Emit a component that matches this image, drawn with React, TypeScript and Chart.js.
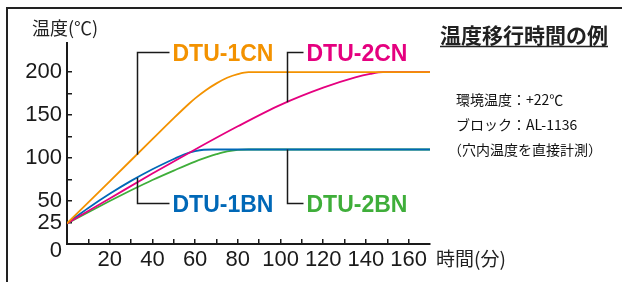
import React, { useEffect, useRef } from 'react';
import { Chart, registerables } from 'chart.js';

Chart.register(...registerables);

// ---- data (minutes, °C) ----
const dtu1cnTime = [0, 10, 20, 30, 40, 50, 57, 60, 65, 70, 75, 80, 85, 170];
const dtu1cnTemp = [24, 48.5, 73, 97.5, 122, 146.5, 163, 169.5, 179, 187, 193.5, 197.8, 200, 200];

const dtu2cnTime = [0, 20, 40, 60, 80, 100, 120, 135, 142, 148, 170];
const dtu2cnTemp = [24, 53, 82, 110, 137, 162, 182, 194, 198, 200, 200];

const dtu1bnTime = [0, 10, 20, 30, 40, 50, 55, 60, 64, 68, 170];
const dtu1bnTemp = [24, 42, 58.5, 73.5, 87, 99, 104.5, 108, 109.7, 110, 110];

const dtu2bnTime = [0, 10, 20, 30, 40, 50, 60, 65, 70, 75, 80, 85, 170];
const dtu2bnTemp = [24, 37, 50, 62.5, 74.5, 85.5, 96, 100.5, 104.5, 107.8, 109.6, 110, 110];

const seriesNames = ['DTU-1CN', 'DTU-2CN', 'DTU-1BN', 'DTU-2BN'];
const seriesColors = ['#F39200', '#E5007F', '#0068B7', '#3FAE3A'];

const xTicks = [0, 10, 20, 30, 40, 50, 60, 70, 80, 90, 100, 110, 120, 130, 140, 150, 160];
const xLabeled = [20, 40, 60, 80, 100, 120, 140, 160];
const yTicks = [0, 25, 50, 75, 100, 125, 150, 175, 200];
const yLabeled = [0, 25, 50, 100, 150, 200];

// callouts: time where the leader meets the curve, temp of the curve there, temp of the label row
const calloutTime = [32.7, 103, 32.7, 103];
const calloutCurveTemp = [104, 165, 77, 110];
const calloutLabelTemp = [223, 223, 47.7, 47.7];

const titleText = '温度移行時間の例';
const noteLines = ['環境温度：+22℃', 'ブロック：AL-1136', '（穴内温度を直接計測）'];
const yTitle = '温度(℃)';
const xTitle = '時間(分)';

const LATIN = '"Liberation Sans", Arial, Helvetica, sans-serif';
const CJK = '"Noto Sans CJK JP", "Noto Sans", sans-serif';
const INK = '#1a1a1a';

const decorPlugin = {
  id: 'decor',
  afterDraw(chart: any) {
    const ctx = chart.ctx as CanvasRenderingContext2D;
    const xs = chart.scales.x;
    const ys = chart.scales.y;
    ctx.save();
    // frame
    ctx.strokeStyle = '#222';
    ctx.lineWidth = 2;
    ctx.strokeRect(7, 8, 700, 400);

    // title + underline
    ctx.fillStyle = '#222';
    ctx.font = `bold 21px ${CJK}`;
    ctx.textBaseline = 'middle';
    ctx.textAlign = 'left';
    ctx.fillText(titleText, 440, 35);
    const tw = ctx.measureText(titleText).width;
    ctx.lineWidth = 1.5;
    ctx.beginPath();
    ctx.moveTo(440, 46.5);
    ctx.lineTo(440 + tw, 46.5);
    ctx.stroke();

    // notes
    ctx.fillStyle = '#111';
    ctx.font = `14px ${CJK}`;
    ctx.fillText(noteLines[0], 456, 100);
    ctx.fillText(noteLines[1], 456, 125);
    ctx.fillText(noteLines[2], 448, 150);

    // axis titles
    ctx.fillStyle = '#222';
    ctx.font = `18px ${CJK}`;
    ctx.fillText(yTitle, 32, 28);
    ctx.font = `19px ${CJK}`;
    ctx.fillText(xTitle, 436, 259);

    // callouts
    for (let i = 0; i < seriesNames.length; i++) {
      const px = Math.round(xs.getPixelForValue(calloutTime[i])) + 0.5;
      const pc = ys.getPixelForValue(calloutCurveTemp[i]);
      const pl = Math.round(ys.getPixelForValue(calloutLabelTemp[i])) + 0.5;
      const len = i % 2 === 0 ? 32 : 16;
      ctx.strokeStyle = INK;
      ctx.lineWidth = 1.5;
      ctx.beginPath();
      ctx.moveTo(px, pc);
      ctx.lineTo(px, pl);
      ctx.lineTo(px + len, pl);
      ctx.stroke();
      ctx.fillStyle = seriesColors[i];
      ctx.font = `bold 23px ${LATIN}`;
      ctx.textBaseline = 'alphabetic';
      ctx.fillText(seriesNames[i], px + len + 3, pl + 8.5);
    }
    ctx.restore();
  },
};

function series(time: number[], temp: number[]) {
  return time.map((t, i) => ({ x: t, y: temp[i] }));
}

export default function App() {
  const ref = useRef<HTMLCanvasElement | null>(null);
  useEffect(() => {
    if (!ref.current) return;
    const all = [
      series(dtu1cnTime, dtu1cnTemp),
      series(dtu2cnTime, dtu2cnTemp),
      series(dtu1bnTime, dtu1bnTemp),
      series(dtu2bnTime, dtu2bnTemp),
    ];
    const chart = new Chart(ref.current, {
      type: 'line',
      data: {
        datasets: all.map((d, i) => ({
          label: seriesNames[i],
          data: d,
          borderColor: seriesColors[i],
          backgroundColor: seriesColors[i],
          borderWidth: 1.8,
          pointRadius: 0,
          fill: false,
          cubicInterpolationMode: 'monotone' as const,
        })),
      },
      options: {
        animation: false,
        responsive: false,
        devicePixelRatio: 1,
        layout: { padding: { left: 0, top: 43, right: 192, bottom: 0 } },
        plugins: { legend: { display: false }, tooltip: { enabled: false }, title: { display: false } },
        scales: {
          x: {
            type: 'linear',
            min: 0,
            max: 170,
            afterFit: (s: any) => { s.height = 38; },
            afterBuildTicks: (s: any) => { s.ticks = xTicks.map((v) => ({ value: v })); },
            border: { display: true, color: INK, width: 2 },
            grid: { drawOnChartArea: false, drawTicks: true, tickLength: -5, color: INK, lineWidth: 1.5 },
            ticks: {
              autoSkip: false,
              maxRotation: 0,
              padding: 8,
              color: INK,
              font: { family: LATIN, size: 22 },
              callback: (v: any) => (xLabeled.includes(Number(v)) ? String(v) : ''),
            },
          },
          y: {
            type: 'linear',
            min: 0,
            max: 234,
            afterFit: (s: any) => { s.width = 67; },
            afterBuildTicks: (s: any) => { s.ticks = yTicks.map((v) => ({ value: v })); },
            border: { display: true, color: INK, width: 2 },
            grid: { drawOnChartArea: false, drawTicks: true, tickLength: -5, color: INK, lineWidth: 1.5 },
            ticks: {
              autoSkip: false,
              padding: 10,
              color: INK,
              font: (c: any) =>
                c.tick && c.tick.value === 0
                  ? { family: LATIN, size: 22, lineHeight: 0.6 }
                  : { family: LATIN, size: 22, lineHeight: 1.2 },
              callback: (v: any) => {
                const n = Number(v);
                if (n === 0) return ['', '0'];
                return yLabeled.includes(n) ? String(n) : '';
              },
            },
          },
        },
      },
      plugins: [decorPlugin],
    } as any);
    return () => chart.destroy();
  }, []);
  return (
    <div style={{ position: 'fixed', left: 0, top: 0, width: 622, height: 282, background: '#fff' }}>
      <canvas ref={ref} width={622} height={282} style={{ width: 622, height: 282, display: 'block' }} />
    </div>
  );
}
